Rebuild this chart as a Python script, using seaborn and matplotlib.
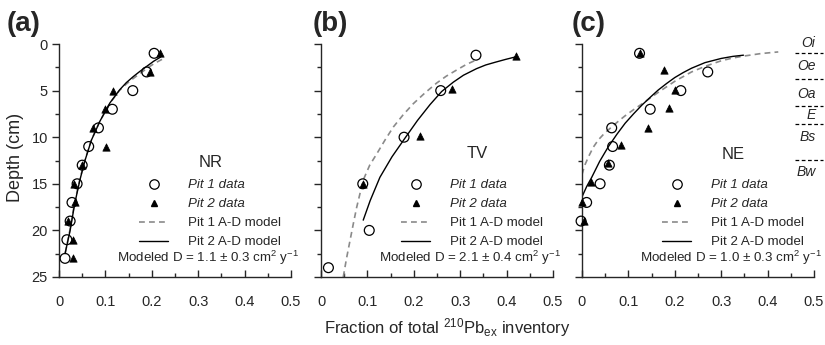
import numpy as np
import pandas as pd
import seaborn as sns
import matplotlib
matplotlib.use("Agg")
import matplotlib.pyplot as plt
from matplotlib.lines import Line2D
from matplotlib.ticker import MultipleLocator, FixedLocator

# ---------------- data ----------------
panels = ["(a)", "(b)", "(c)"]
sites = ["NR", "TV", "NE"]
d_values = ["1.1 \u00b1 0.3", "2.1 \u00b1 0.4", "1.0 \u00b1 0.3"]

# (a) NR
a_depth = [1, 3, 5, 7, 9, 11, 13, 15, 17, 19, 21, 23]
a_p1_x = [0.205, 0.189, 0.159, 0.115, 0.085, 0.064, 0.050, 0.039, 0.028, 0.024, 0.017, 0.013]
a_p2_x = [0.218, 0.197, 0.116, 0.099, 0.073, 0.101, 0.049, 0.032, 0.034, 0.019, 0.030, 0.030]
a_m1_x = [0.222, 0.205, 0.190, 0.175, 0.160, 0.145, 0.130, 0.109, 0.087, 0.069, 0.055, 0.044, 0.033, 0.023, 0.012]
a_m1_d = [1.65, 2.1, 2.6, 3.15, 3.7, 4.3, 5.0, 6.4, 8.4, 10.4, 12.6, 14.7, 17.2, 20.1, 22.8]
a_m2_x = [0.219, 0.204, 0.189, 0.174, 0.160, 0.145, 0.131, 0.110, 0.088, 0.070, 0.056, 0.045, 0.034, 0.024, 0.013]
a_m2_d = [1.4, 1.85, 2.4, 2.95, 3.5, 4.15, 4.9, 6.3, 8.3, 10.3, 12.5, 14.6, 17.1, 20.0, 22.5]

# (b) TV
b_p1_depth = [1.2, 5, 10, 15, 20, 24]
b_p1_x = [0.334, 0.258, 0.179, 0.090, 0.104, 0.016]
b_p2_depth = [1.3, 4.8, 9.9, 15]
b_p2_x = [0.420, 0.282, 0.213, 0.090]
b_m1_x = [0.048, 0.055, 0.0625, 0.070, 0.077, 0.091, 0.105, 0.120, 0.138, 0.156, 0.177, 0.199, 0.224, 0.249, 0.270, 0.292, 0.313, 0.335]
b_m1_d = [25.0, 23.0, 21.1, 19.2, 17.5, 14.6, 13.0, 11.8, 10.3, 8.9, 7.6, 6.4, 5.25, 4.2, 3.45, 2.8, 2.2, 1.7]
b_m2_x = [0.091, 0.106, 0.127, 0.153, 0.181, 0.208, 0.235, 0.260, 0.285, 0.307, 0.335, 0.355, 0.376, 0.398, 0.418]
b_m2_d = [18.9, 16.8, 14.3, 12.1, 10.1, 8.2, 6.5, 5.1, 4.1, 3.35, 2.65, 2.25, 1.95, 1.65, 1.4]

# (c) NE
c_p1_depth = [1, 3, 5, 7, 9, 11, 13, 15, 17, 19]
c_p1_x = [0.124, 0.271, 0.213, 0.147, 0.064, 0.066, 0.059, 0.039, 0.010, -0.002]
c_p2_depth = [1, 2.8, 4.9, 6.9, 9, 10.8, 12.8, 14.8, 17, 19]
c_p2_x = [0.124, 0.177, 0.200, 0.188, 0.142, 0.083, 0.056, 0.019, 0.000, 0.005]
c_m1_x = [0.000, 0.006, 0.014, 0.024, 0.035, 0.049, 0.064, 0.078, 0.093, 0.111, 0.130, 0.147, 0.164, 0.182, 0.200, 0.218, 0.236, 0.265, 0.300, 0.325, 0.348, 0.385, 0.423]
c_m1_d = [14.0, 13.0, 12.1, 11.1, 10.3, 9.55, 8.9, 8.3, 7.7, 7.05, 6.4, 5.8, 5.2, 4.6, 4.0, 3.5, 3.0, 2.4, 1.8, 1.5, 1.3, 1.03, 0.85]
c_m2_x = [0.000, 0.010, 0.021, 0.038, 0.057, 0.075, 0.093, 0.111, 0.129, 0.147, 0.164, 0.182, 0.200, 0.218, 0.236, 0.265, 0.300, 0.325, 0.348]
c_m2_d = [16.4, 15.3, 14.3, 12.6, 11.0, 9.7, 8.5, 7.5, 6.56, 5.72, 4.95, 4.25, 3.6, 3.07, 2.6, 2.0, 1.55, 1.33, 1.2]

horizons = ["Oi", "Oe", "Oa", "E", "Bs", "Bw"]
horizon_text_depth = [-0.1, 2.4, 5.4, 7.6, 10.0, 13.7]
horizon_bounds = [0.94, 3.8, 6.6, 8.6, 12.4]

x_ticks = [0, 0.1, 0.2, 0.3, 0.4, 0.5]
x_ticklabels = ["0", "0.1", "0.2", "0.3", "0.4", "0.5"]
y_ticks = [0, 5, 10, 15, 20, 25]

# ---------------- style ----------------
sns.set_style("ticks")
plt.rcParams["font.family"] = ["Liberation Sans", "DejaVu Sans"]
plt.rcParams["mathtext.fontset"] = "custom"
plt.rcParams["mathtext.rm"] = "Liberation Sans"
plt.rcParams["mathtext.it"] = "Liberation Sans:italic"
plt.rcParams["axes.linewidth"] = 1.0

W, H = 825, 345
fig = plt.figure(figsize=(W / 100, H / 100), dpi=100)

lefts = [59, 321, 582]
panel_label_x = [7, 313, 572]
ax_w, ax_top, ax_bot = 232, 44, 277
GREY = "#8a8a8a"

site_pos = [(0.654, 0.49), (0.672, 0.528), (0.652, 0.524)]

data = [
    (a_depth, a_p1_x, a_depth, a_p2_x, a_m1_x, a_m1_d, a_m2_x, a_m2_d),
    (b_p1_depth, b_p1_x, b_p2_depth, b_p2_x, b_m1_x, b_m1_d, b_m2_x, b_m2_d),
    (c_p1_depth, c_p1_x, c_p2_depth, c_p2_x, c_m1_x, c_m1_d, c_m2_x, c_m2_d),
]

axes = []
for i in range(3):
    ax = fig.add_axes([lefts[i] / W, 1 - ax_bot / H, ax_w / W, (ax_bot - ax_top) / H])
    axes.append(ax)
    p1d, p1x, p2d, p2x, m1x, m1d, m2x, m2d = data[i]

    sns.lineplot(x=m1x, y=m1d, sort=False, estimator=None, ax=ax, color=GREY,
                 lw=1.2, dashes=False, linestyle=(0, (3.5, 2.5)), zorder=2)
    sns.lineplot(x=m2x, y=m2d, sort=False, estimator=None, ax=ax, color="black",
                 lw=1.0, zorder=2)
    sns.scatterplot(x=p1x, y=p1d, ax=ax, marker="o", s=50, facecolor="none",
                    edgecolor="black", linewidth=0.9, zorder=3, clip_on=False)
    sns.scatterplot(x=p2x, y=p2d, ax=ax, marker="^", s=28, color="black",
                    edgecolor="black", linewidth=0.5, zorder=4, clip_on=False)

    ax.set_xlim(0, 0.5)
    ax.set_ylim(25, 0)
    ax.xaxis.set_major_locator(FixedLocator(x_ticks))
    ax.set_xticklabels(x_ticklabels)
    ax.xaxis.set_minor_locator(MultipleLocator(0.05))
    ax.yaxis.set_major_locator(FixedLocator(y_ticks))
    ax.yaxis.set_minor_locator(MultipleLocator(2.5))
    ax.tick_params(axis="x", which="major", direction="in", length=5, width=1,
                   pad=13, labelsize=10.5)
    ax.tick_params(axis="x", which="minor", direction="in", length=3, width=1)
    ax.tick_params(axis="y", which="major", direction="out", length=5, width=1,
                   pad=3, labelsize=10.5)
    ax.tick_params(axis="y", which="minor", direction="out", length=3, width=1)
    if i > 0:
        ax.set_yticklabels([])
    ax.set_xlabel("")
    ax.set_ylabel("")
    sns.despine(ax=ax)
    ax.patch.set_alpha(0)

    # site label
    ax.text(site_pos[i][0], site_pos[i][1], sites[i], transform=ax.transAxes,
            ha="center", va="center", fontsize=12)

    handles = [
        Line2D([], [], ls="none", marker="o", ms=6.8, mfc="none", mec="black", mew=0.9),
        Line2D([], [], ls="none", marker="^", ms=5.0, mfc="black", mec="black"),
        Line2D([], [], color=GREY, lw=1.2, ls=(0, (3.5, 2.5))),
        Line2D([], [], color="black", lw=1.0),
    ]
    labels = ["Pit 1 data", "Pit 2 data", "Pit 1 A-D model", "Pit 2 A-D model"]
    leg = ax.legend(handles, labels, loc="upper left", bbox_to_anchor=(0.345, 0.42),
                    frameon=False, fontsize=9.6, handlelength=2.2, handletextpad=1.5,
                    labelspacing=0.5, borderpad=0, borderaxespad=0)
    for t in leg.get_texts()[:2]:
        t.set_style("italic")

    ax.text(1.035, 0.08, "Modeled D = " + d_values[i] + " cm$^{2}$ y$^{\\mathregular{-1}}$",
            transform=ax.transAxes, ha="right", va="center", fontsize=9.6)

    fig.text(panel_label_x[i] / W, 1 - 24 / H, panels[i],
             ha="left", va="center", fontsize=20, fontweight="bold")

# horizons on panel (c)
axc = axes[2]
for name, d in zip(horizons, horizon_text_depth):
    axc.text(0.503, d, name, ha="right", va="center", fontsize=10, style="italic",
             clip_on=False)
for d in horizon_bounds:
    axc.plot([0.458, 0.52], [d, d], color="black", lw=0.9, ls=(0, (3, 2)),
             clip_on=False)

fig.text(15.5 / W, 1 - 157 / H, "Depth (cm)", rotation=90, ha="center", va="center",
         fontsize=13)
fig.text(447 / W, 1 - 328 / H, "Fraction of total $^{\\mathregular{210}}$Pb$_{\\mathregular{ex}}$ inventory",
         ha="center", va="center", fontsize=12)

fig.savefig("out.png", dpi=100)
